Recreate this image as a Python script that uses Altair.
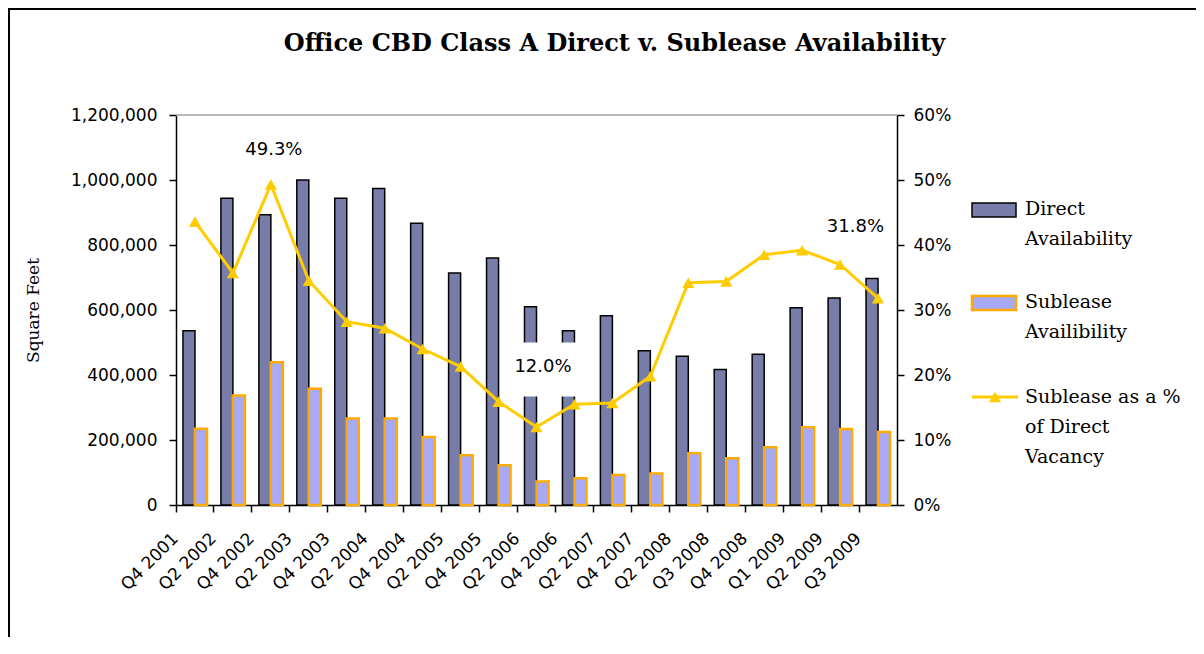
import altair as alt
import pandas as pd

# ---------------- data ----------------
quarters = ["Q4 2001", "Q2 2002", "Q4 2002", "Q2 2003", "Q4 2003", "Q2 2004",
            "Q4 2004", "Q2 2005", "Q4 2005", "Q2 2006", "Q4 2006", "Q2 2007",
            "Q4 2007", "Q2 2008", "Q3 2008", "Q4 2008", "Q1 2009", "Q2 2009",
            "Q3 2009"]
direct = [536000, 944000, 893000, 1000000, 944000, 974000, 867000, 714000,
          760000, 610000, 536000, 582000, 475000, 458000, 417000, 464000,
          607000, 637000, 697000]
sublease = [235000, 337000, 439000, 358000, 266000, 266000, 209000, 153000,
            122000, 72000, 82000, 92000, 97000, 159000, 144000, 178000,
            239000, 234000, 225000]
pct = [43.6, 35.7, 49.3, 34.5, 28.2, 27.2, 24.0, 21.3, 15.9, 12.0, 15.5, 15.7,
       19.8, 34.2, 34.4, 38.5, 39.2, 37.0, 31.8]

series_names = ["Direct Availability", "Sublease Availibility"]
legend_direct = ["Direct", "Availability"]
legend_sub = ["Sublease", "Availibility"]
legend_line = ["Sublease as a %", "of Direct", "Vacancy"]
title_text = "Office CBD Class A Direct v. Sublease Availability"
y_title = "Square Feet"
left_ticks = [0, 200000, 400000, 600000, 800000, 1000000, 1200000]
right_ticks = [0, 10, 20, 30, 40, 50, 60]
top_line = [1200000]

# ---------------- styles ----------------
C_DIRECT = "#787ca8"
C_SUB = "#a8aaf8"
C_ORANGE = "#ffaa00"
C_YELLOW = "#ffcc00"
SANS = "DejaVu Sans"
SERIF = "DejaVu Serif"

bars_df = pd.DataFrame({
    "quarter": quarters * 2,
    "series": [series_names[0]] * len(quarters) + [series_names[1]] * len(quarters),
    "value": direct + sublease,
})
line_df = pd.DataFrame({"quarter": quarters, "pct": pct})
one = pd.DataFrame({"k": [0]})

x_axis = alt.Axis(bandPosition=0, labelAngle=315, labelAlign="right",
                  labelBaseline="top", labelPadding=18, labelOffset=-25,
                  tickSize=7, labelFont=SANS, labelFontSize=17,
                  labelColor="black", domainColor="black", tickColor="black",
                  domainWidth=1.5, tickWidth=1.5, labelOverlap=False,
                  labelFlush=False, title=None)
x_scale = alt.Scale(domain=quarters, paddingInner=0, paddingOuter=0)
x_enc = alt.X("quarter:N", scale=x_scale, axis=x_axis)

left_scale = alt.Scale(domain=[0, 1200000], nice=False)
right_scale = alt.Scale(domain=[0, 60], nice=False)

# ---------------- bars (left axis) ----------------
bars = alt.Chart(bars_df).mark_bar().encode(
    x=x_enc,
    xOffset=alt.XOffset("series:N",
                        scale=alt.Scale(domain=series_names, paddingInner=0,
                                        paddingOuter=0.58)),
    y=alt.Y("value:Q", scale=left_scale,
            axis=alt.Axis(values=left_ticks, format=",d", tickSize=7,
                          labelPadding=12, labelFont=SANS, labelFontSize=17,
                          labelColor="black", domainColor="black",
                          tickColor="black", domainWidth=1.5, tickWidth=1.5,
                          grid=False, title=y_title, titleFont=SERIF,
                          titleFontSize=17, titleFontWeight="normal",
                          titleColor="black", titleAngle=270,
                          titleAlign="center", titleBaseline="alphabetic",
                          titleX=-138, titleY=195)),
    fill=alt.Fill("series:N",
                  scale=alt.Scale(domain=series_names, range=[C_DIRECT, C_SUB]),
                  legend=None),
    stroke=alt.Stroke("series:N",
                      scale=alt.Scale(domain=series_names,
                                      range=["#000000", C_ORANGE]),
                      legend=None),
    strokeWidth=alt.condition(alt.datum.series == series_names[0],
                              alt.value(1.5), alt.value(2.5)),
)

grid_top = alt.Chart(pd.DataFrame({"v": top_line})).mark_rule(
    color="#a0a0a0", strokeWidth=1.5
).encode(y=alt.Y("v:Q", scale=left_scale, axis=None))

# ---------------- line (right axis) ----------------
y_right = alt.Y("pct:Q", scale=right_scale,
                axis=alt.Axis(orient="right", values=right_ticks,
                              labelExpr="datum.value + '%'", tickSize=7,
                              labelPadding=9, labelFont=SANS, labelFontSize=17,
                              labelColor="black", domainColor="black",
                              tickColor="black", domainWidth=1.5,
                              tickWidth=1.5, grid=False, title=None))
y_right_noaxis = alt.Y("pct:Q", scale=right_scale, axis=None)

box = alt.Chart(line_df).transform_filter(
    alt.datum.quarter == "Q2 2006"
).mark_point(shape="M-1,-0.6H1V0.6H-1Z", size=8100, filled=True,
             color="white", opacity=1, strokeWidth=0, xOffset=11,
             yOffset=-57.5).encode(x=x_enc, y=y_right_noaxis)

line = alt.Chart(line_df).mark_line(color=C_YELLOW, strokeWidth=3).encode(
    x=x_enc, y=y_right)

tri = alt.Chart(line_df).mark_point(shape="triangle-up", size=150, filled=True,
                                    color=C_YELLOW, opacity=1).encode(
    x=x_enc, y=y_right_noaxis)


def annotation(q, dx, dy):
    return alt.Chart(line_df).transform_filter(
        alt.datum.quarter == q
    ).transform_calculate(
        lbl="format(datum.pct, '.1f') + '%'"
    ).mark_text(dx=dx, dy=dy, font=SANS, fontSize=18, color="black",
                align="center", baseline="alphabetic").encode(
        x=x_enc, y=y_right_noaxis, text="lbl:N")


# ---------------- decorations: title, frame, legend ----------------
title = alt.Chart(one).mark_text(
    text=title_text, font=SERIF, fontSize=24, fontWeight="bold",
    align="center", baseline="alphabetic", color="black"
).encode(x=alt.value(438.5), y=alt.value(-64.3))

frame_left = alt.Chart(one).mark_rule(color="black", strokeWidth=2).encode(
    x=alt.value(-167), y=alt.value(-107), y2=alt.value(600))
frame_top = alt.Chart(one).mark_rule(color="black", strokeWidth=2).encode(
    x=alt.value(-168), x2=alt.value(1100), y=alt.value(-106))

leg_box1 = alt.Chart(one).mark_rect(fill=C_DIRECT, stroke="black",
                                    strokeWidth=1.5).encode(
    x=alt.value(796), x2=alt.value(840), y=alt.value(88), y2=alt.value(102))
leg_box2 = alt.Chart(one).mark_rect(fill=C_SUB, stroke=C_ORANGE,
                                    strokeWidth=2.5).encode(
    x=alt.value(796), x2=alt.value(840), y=alt.value(181), y2=alt.value(195))
leg_line = alt.Chart(one).mark_rule(color=C_YELLOW, strokeWidth=3).encode(
    x=alt.value(796), x2=alt.value(842), y=alt.value(282))
leg_tri = alt.Chart(one).mark_point(shape="triangle-up", size=150, filled=True,
                                    color=C_YELLOW, opacity=1).encode(
    x=alt.value(819), y=alt.value(282))


def leg_text(lines, y):
    return alt.Chart(one).mark_text(
        text=lines, font=SERIF, fontSize=19, lineHeight=30, align="left",
        baseline="alphabetic", color="black"
    ).encode(x=alt.value(849), y=alt.value(y))


chart = alt.layer(
    bars, grid_top, box, line, tri,
    annotation("Q4 2002", 3, -29.5),
    annotation("Q2 2006", 6.5, -55.3),
    annotation("Q3 2009", -22.6, -66.6),
    title, frame_left, frame_top,
    leg_box1, leg_box2, leg_line, leg_tri,
    leg_text(legend_direct, 100), leg_text(legend_sub, 193),
    leg_text(legend_line, 288),
).resolve_scale(y="independent").properties(
    width=721, height=390,
    padding={"left": 168, "top": 107, "right": 299, "bottom": 132},
    autosize=alt.AutoSizeParams(type="none"),
    background="white",
).configure_view(stroke="transparent")

chart.save("out.html", embed_options={"renderer": "svg", "actions": False})
